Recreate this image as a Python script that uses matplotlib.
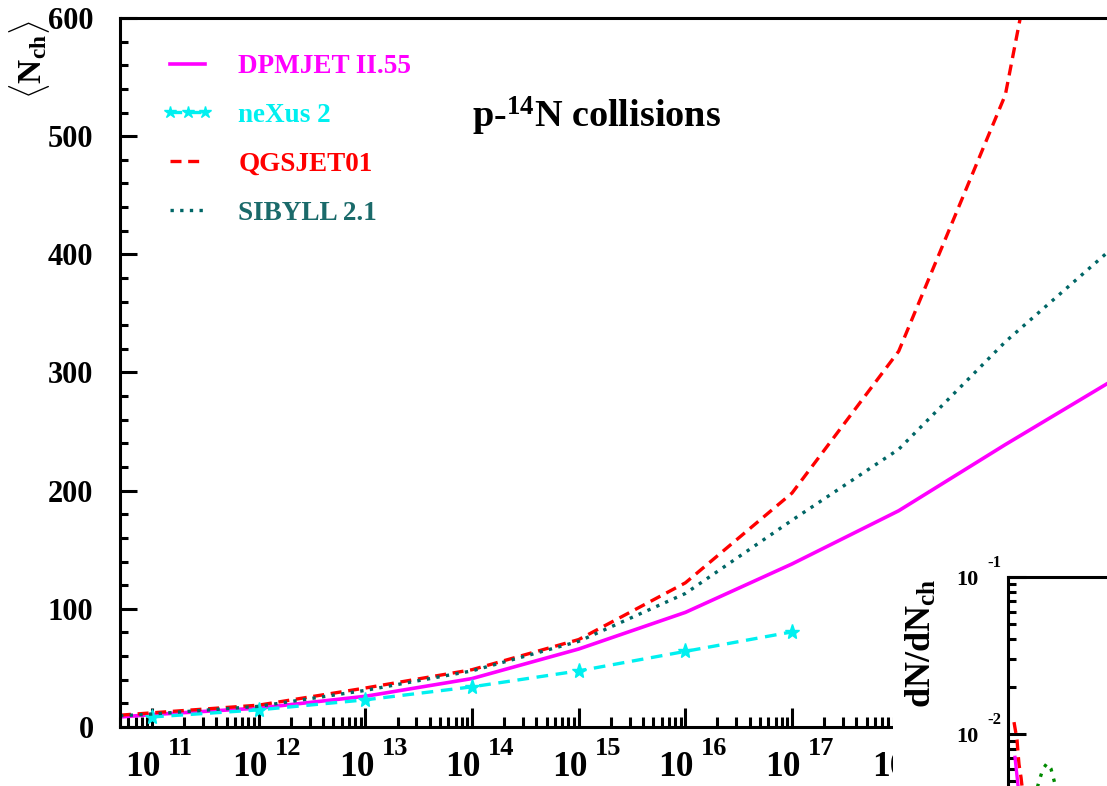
import matplotlib
matplotlib.use('Agg')
import matplotlib.pyplot as plt
from matplotlib.ticker import LogLocator, MultipleLocator, NullFormatter
from matplotlib.transforms import offset_copy
from matplotlib.patches import Rectangle

plt.rcParams['font.family'] = 'Liberation Serif'
plt.rcParams['font.weight'] = 'bold'
plt.rcParams['mathtext.fontset'] = 'custom'
plt.rcParams['mathtext.rm'] = 'Liberation Serif:bold'
plt.rcParams['mathtext.bf'] = 'Liberation Serif:bold'
plt.rcParams['mathtext.it'] = 'Liberation Serif:bold:italic'
plt.rcParams['mathtext.default'] = 'rm'

# mean charged multiplicity vs lab energy (eV)
energy = [5e10, 1e11, 1e12, 1e13, 1e14, 1e15, 1e16, 1e17, 1e18, 1e19, 1e20]
dpmjet = [8.5, 10.5, 16, 26, 41, 66, 97, 138, 183, 239, 293]
qgsjet = [10, 12, 18.5, 33, 48.5, 74, 122, 198, 318, 535, 1000]
sibyll = [9.5, 11, 17.5, 31, 47.5, 72.5, 113, 175, 235, 326, 405]
nexus_energy = [1e11, 1e12, 1e13, 1e14, 1e15, 1e16, 1e17]
nexus = [8.5, 14.5, 23, 34, 47.5, 64, 80.5]

decades = list(range(11, 19))
yticks = [0, 100, 200, 300, 400, 500, 600]

# multiplicity distributions (inset)
inset_qgs_x = [3, 4.5, 5, 5.5, 6.5, 8]
inset_qgs_y = [0.0119, 0.0092, 0.0076, 0.0064, 0.0053, 0.0036]
inset_dpm_x = [3.5, 5, 6.5]
inset_dpm_y = [0.0071, 0.0047, 0.003]
inset_sib_x = [13, 15.5, 17.5, 19.5, 21.5, 23.5, 26]
inset_sib_y = [0.0038, 0.0050, 0.0060, 0.0065, 0.0060, 0.0048, 0.0036]
inset_decades = [-1, -2]

magenta = '#ff00ff'
cyan = '#00f0f0'
red = '#ff0000'
teal = '#006666'
teal_text = '#1a6a6a'
green = '#008a00'

W, H = 1107, 786
fig = plt.figure(figsize=(W / 100, H / 100), dpi=100)
fig.patch.set_facecolor('white')

ax = fig.add_axes([120 / W, 1 - 727 / H, (1112 - 120) / W, (727 - 18) / H])
ax.set_xscale('log')
ax.set_xlim(5e10, 1e20)
ax.set_ylim(0, 600)

ax.plot(energy, dpmjet, color=magenta, lw=2.6, label='DPMJET II.55')
ax.plot(nexus_energy, nexus, color=cyan, lw=2.4, linestyle=(0, (3.5, 2.3)),
        marker='*', markersize=11, label='neXus 2')
ax.plot(energy, qgsjet, color=red, lw=2.4, linestyle=(0, (3.3, 2.0)), label='QGSJET01')
ax.plot(energy, sibyll, color=teal, lw=2.4, linestyle=(0, (1, 1.9)), label='SIBYLL 2.1')

for s in ax.spines.values():
    s.set_linewidth(2.2)

ax.set_yticks(yticks)
ax.yaxis.set_minor_locator(MultipleLocator(20))
ax.xaxis.set_major_locator(LogLocator(base=10, numticks=30))
ax.xaxis.set_minor_locator(LogLocator(base=10, subs=range(2, 10), numticks=300))
ax.xaxis.set_major_formatter(NullFormatter())
ax.xaxis.set_minor_formatter(NullFormatter())
ax.tick_params(which='both', direction='in', top=False, right=False, width=2.2)
ax.tick_params(axis='x', which='major', length=14)
ax.tick_params(axis='x', which='minor', length=7)
ax.tick_params(axis='y', which='major', length=12, labelsize=22, pad=19)
ax.tick_params(axis='y', which='minor', length=6)

# x tick labels in the "10  exponent" style
xt = ax.get_xaxis_transform()
for k in decades:
    ax.text(10.0 ** k, 0, '10', fontsize=25.5, ha='center', va='baseline',
            transform=offset_copy(xt, fig=fig, x=-6.5, y=-35.0, units='points'))
    ax.text(10.0 ** k, 0, str(k), fontsize=19, ha='left', va='baseline',
            transform=offset_copy(xt, fig=fig, x=11.5, y=-20.5, units='points'))

fig.text(30 / W, 1 - 60 / H, r'$\langle\mathrm{N}_{\mathrm{ch}}\rangle$', fontsize=24,
         rotation=90, ha='center', va='center')

fig.text(472 / W, 1 - 128 / H, r'p-$^{14}$N collisions', fontsize=27.5,
         ha='left', va='baseline')

leg = ax.legend(loc='upper left', bbox_to_anchor=(162 / W, 1 - 54 / H),
                bbox_transform=fig.transFigure, frameon=False, fontsize=19.5,
                numpoints=3, handlelength=1.9, handletextpad=0.92,
                labelspacing=0.88, borderpad=0, borderaxespad=0)
for txt, line in zip(leg.get_texts(), leg.get_lines()):
    txt.set_color(line.get_color())
leg.get_texts()[3].set_color(teal_text)
leg.get_lines()[1].set_markersize(9)

# white backing behind the inset
fig.add_artist(Rectangle((893 / W, 0), 1, (H - 520) / H, transform=fig.transFigure,
                         facecolor='white', edgecolor='none', zorder=1))

axin = fig.add_axes([1008 / W, (H - 891) / H, 400 / W, 314 / H])
axin.set_zorder(2)
axin.set_yscale('log')
axin.set_ylim(1e-3, 1e-1)
axin.set_xlim(0, 200)
axin.plot(inset_qgs_x, inset_qgs_y, color=red, lw=2.4, linestyle=(0, (3.3, 2.0)))
axin.plot(inset_dpm_x, inset_dpm_y, color=magenta, lw=2.4)
axin.plot(inset_sib_x, inset_sib_y, color=green, lw=2.4, linestyle=(0, (1, 2.2)))
for s in axin.spines.values():
    s.set_linewidth(2.2)
axin.yaxis.set_major_locator(LogLocator(base=10, numticks=10))
axin.yaxis.set_minor_locator(LogLocator(base=10, subs=range(2, 10), numticks=100))
axin.yaxis.set_major_formatter(NullFormatter())
axin.yaxis.set_minor_formatter(NullFormatter())
axin.set_xticks([])
axin.tick_params(which='both', direction='in', right=False, width=2.2)
axin.tick_params(axis='y', which='major', length=13)
axin.tick_params(axis='y', which='minor', length=6)

yt = axin.get_yaxis_transform()
for k in inset_decades:
    axin.text(0, 10.0 ** k, '10', fontsize=16, ha='right', va='baseline',
              transform=offset_copy(yt, fig=fig, x=-21.6, y=-5.8, units='points'))
    axin.text(0, 10.0 ** k, str(k), fontsize=12, ha='left', va='baseline',
              transform=offset_copy(yt, fig=fig, x=-15, y=7.2, units='points'))

fig.text(922 / W, 1 - 643 / H, r'dN/dN$_{\mathrm{ch}}$', fontsize=26,
         rotation=90, ha='center', va='center', zorder=3)

fig.savefig('out.png', dpi=100)
